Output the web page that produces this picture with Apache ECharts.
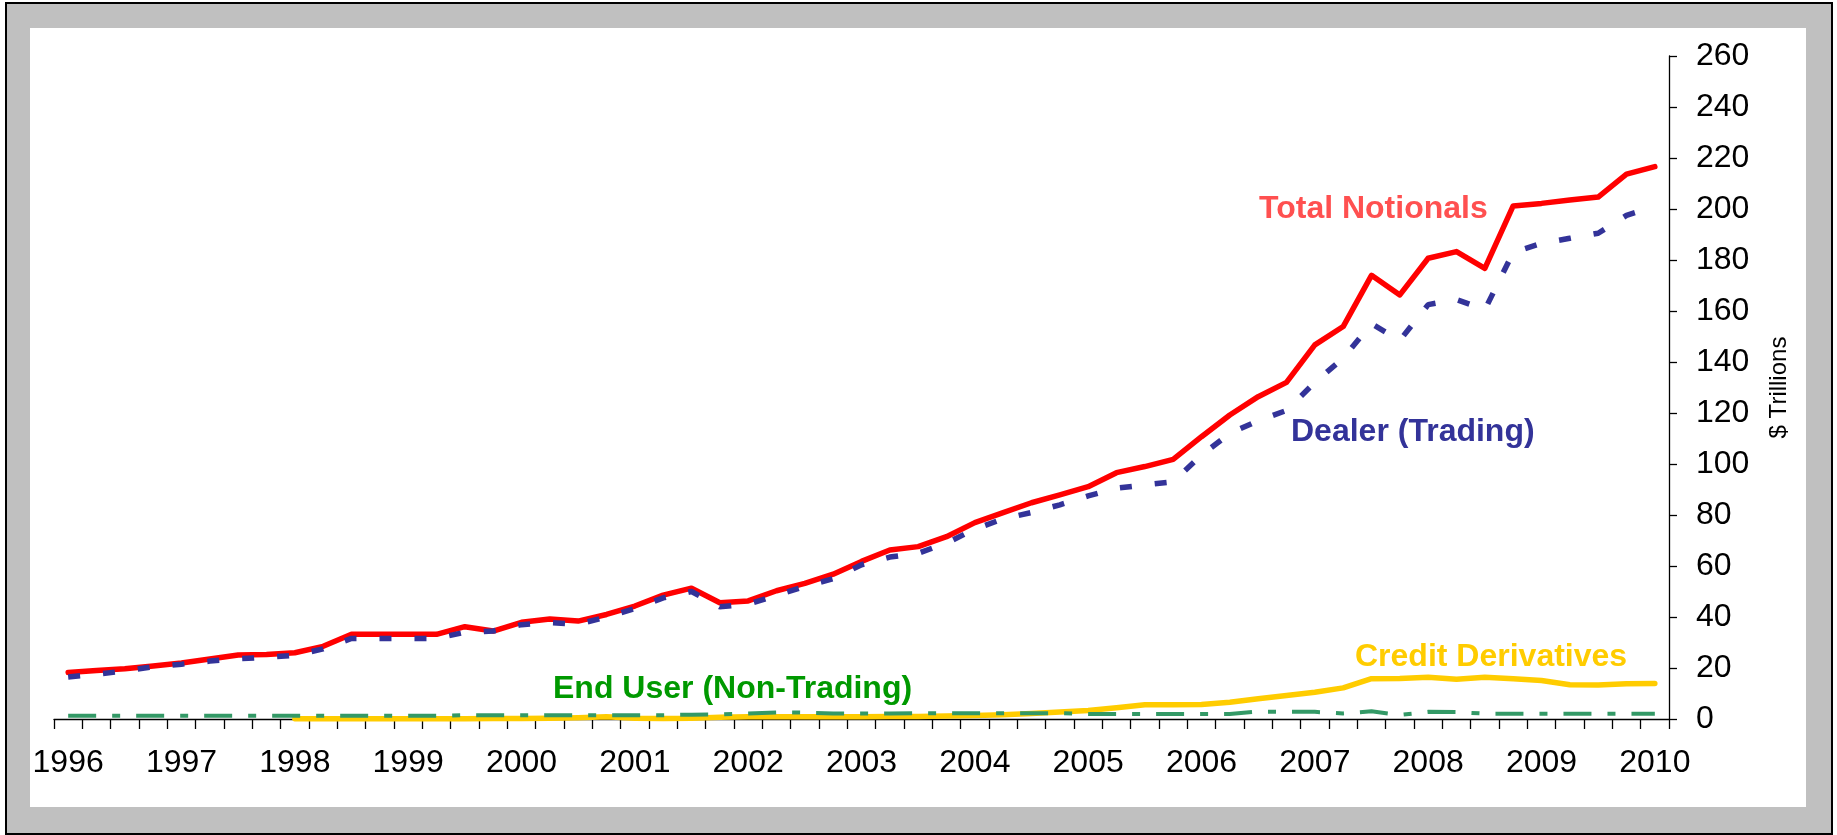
<!DOCTYPE html>
<html>
<head>
<meta charset="utf-8">
<title>Derivatives notionals</title>
<script src="https://cdn.jsdelivr.net/npm/echarts@6/dist/echarts.min.js"></script>
<style>
  html, body { margin: 0; padding: 0; background: #fff; }
  #frame {
    position: absolute; left: 5px; top: 2px;
    width: 1824px; height: 829px;
    border: 2px solid #000; background: #c0c0c0;
  }
  #plotbg {
    position: absolute; left: 30px; top: 28px;
    width: 1776px; height: 779px; background: #fff;
  }
  #chart { position: absolute; left: 0; top: 0; width: 1837px; height: 835px; }
</style>
</head>
<body>
<div id="frame"></div>
<div id="plotbg"></div>
<div id="chart"></div>
<script>
// year tick labels, one category per quarter from 1996Q1 to 2010Q1
const years = [1996, 1997, 1998, 1999, 2000, 2001, 2002, 2003, 2004, 2005, 2006, 2007, 2008, 2009, 2010];
const quarters = [];
years.forEach((y) => {
  for (let q = 1; q <= 4; q++) {
    if (y === 2010 && q > 1) break;
    quarters.push(y + "Q" + q);
  }
});

// $ trillions, quarterly
const totalNotionals = [
  18.2, 19.0, 19.7, 20.8, 22.0, 23.5, 25.1, 25.3, 26.0, 28.5,
  33.2, 33.2, 33.2, 33.2, 36.2, 34.5, 37.9, 39.2, 38.4, 41.0,
  44.3, 48.6, 51.3, 45.6, 46.3, 50.3, 53.2, 56.8, 61.8, 66.3,
  67.6, 71.5, 77.0, 80.9, 84.8, 87.9, 91.1, 96.6, 99.0, 101.8,
  110.7, 119.2, 126.4, 132.0, 146.7, 153.9, 174.0, 166.3, 180.7, 183.3,
  176.7, 201.2, 202.2, 203.5, 204.7, 213.7, 216.6
];
const dealerTrading = [
  16.5, 17.6, 18.8, 20.5, 21.5, 22.7, 23.6, 24.2, 25.0, 27.5,
  31.6, 31.6, 31.6, 31.6, 34.0, 34.5, 37.0, 37.8, 37.2, 40.0,
  43.3, 47.5, 50.0, 44.0, 45.0, 48.5, 52.0, 55.0, 60.5, 63.5,
  65.0, 69.0, 74.5, 78.5, 81.0, 84.0, 87.5, 90.5, 91.8, 93.0,
  103.5, 112.0, 117.0, 121.0, 132.0, 141.5, 155.0, 148.5, 162.5, 164.5,
  160.5, 183.0, 186.5, 188.5, 190.5, 197.5, 201.0
];
const endUser = [
  1.3, 1.3, 1.3, 1.3, 1.3, 1.3, 1.3, 1.3, 1.3, 1.3,
  1.3, 1.3, 1.3, 1.3, 1.5, 1.5, 1.5, 1.5, 1.5, 1.5,
  1.5, 1.5, 1.7, 1.8, 2.2, 2.6, 2.5, 2.2, 2.2, 2.2,
  2.3, 2.3, 2.3, 2.3, 2.3, 2.3, 2.0, 2.0, 2.0, 2.0,
  2.0, 2.0, 2.9, 2.8, 2.8, 2.2, 3.0, 1.6, 2.8, 2.7,
  2.1, 2.1, 2.1, 2.1, 2.1, 2.1, 2.1
];
const creditDerivatives = [
  null, null, null, null, null, null, null, null, 0.1, 0.1,
  0.1, 0.1, 0.1, 0.1, 0.1, 0.2, 0.2, 0.3, 0.5, 0.9,
  0.3, 0.2, 0.3, 0.7, 0.9, 0.9, 0.9, 0.9, 0.9, 1.0,
  1.0, 1.2, 1.4, 1.7, 2.2, 2.7, 3.3, 4.4, 5.6, 5.6,
  5.7, 6.6, 7.9, 9.2, 10.5, 12.2, 15.8, 15.9, 16.4, 15.6,
  16.4, 15.8, 15.1, 13.4, 13.3, 13.8, 13.9
];
const yTicks = { min: 0, max: 260, step: 20 };

const font = 'Arial, "Liberation Sans", sans-serif';

// text labels placed next to the lines
function note(text, x, y, color) {
  return {
    type: "text",
    x: x,
    y: y,
    z: 10,
    style: {
      text: text,
      fill: color,
      font: "bold 32px " + font,
      align: "left",
      textAlign: "left",
      verticalAlign: "middle",
      textVerticalAlign: "middle",
    },
  };
}

const chart = echarts.init(document.getElementById("chart"));
chart.setOption({
  backgroundColor: "transparent",
  animation: false,
  grid: {
    left: 54,
    right: 168,
    top: 56,
    bottom: 116,
    containLabel: false,
    outerBoundsMode: "none",
  },
  xAxis: {
    type: "category",
    data: quarters,
    boundaryGap: true,
    axisLine: { show: true, onZero: false, lineStyle: { color: "#000", width: 1.3 } },
    axisTick: { show: true, interval: 0, length: 10, alignWithLabel: false, lineStyle: { color: "#000", width: 1.3 } },
    axisLabel: {
      interval: 3,
      margin: 28,
      color: "#000",
      fontSize: 32,
      fontFamily: font,
      formatter: (v) => v.slice(0, 4),
    },
    splitLine: { show: false },
  },
  yAxis: {
    type: "value",
    position: "right",
    min: yTicks.min,
    max: yTicks.max,
    interval: yTicks.step,
    name: "$ Trillions",
    nameLocation: "middle",
    nameRotate: 90,
    nameGap: 98,
    nameTextStyle: { color: "#000", fontSize: 24, fontFamily: font },
    axisLine: { show: true, lineStyle: { color: "#000", width: 1.3 } },
    axisTick: { show: true, length: 8, lineStyle: { color: "#000", width: 1.3 } },
    axisLabel: { margin: 27, color: "#000", fontSize: 32, fontFamily: font },
    splitLine: { show: false },
  },
  series: [
    {
      name: "Credit Derivatives",
      type: "line",
      data: creditDerivatives,
      symbol: "none",
      clip: false,
      connectNulls: false,
      lineStyle: { color: "#ffcc00", width: 5.5, cap: "round", join: "round" },
    },
    {
      name: "End User (Non-Trading)",
      type: "line",
      data: endUser,
      symbol: "none",
      clip: false,
      lineStyle: { color: "#339966", width: 4, type: [28, 16, 8, 16], cap: "butt" },
    },
    {
      name: "Total Notionals",
      type: "line",
      data: totalNotionals,
      symbol: "none",
      clip: false,
      lineStyle: { color: "#ff0000", width: 5.5, cap: "round", join: "round" },
    },
    {
      name: "Dealer (Trading)",
      type: "line",
      data: dealerTrading,
      symbol: "none",
      clip: false,
      lineStyle: { color: "#333399", width: 5.5, type: [12, 23], cap: "butt" },
    },
  ],
  graphic: [
    note("Total Notionals", 1259, 209, "#ff5050"),
    note("Dealer (Trading)", 1291, 432, "#333399"),
    note("End User (Non-Trading)", 553, 689, "#009900"),
    note("Credit Derivatives", 1355, 657, "#ffcc00"),
  ],
});
</script>
</body>
</html>
